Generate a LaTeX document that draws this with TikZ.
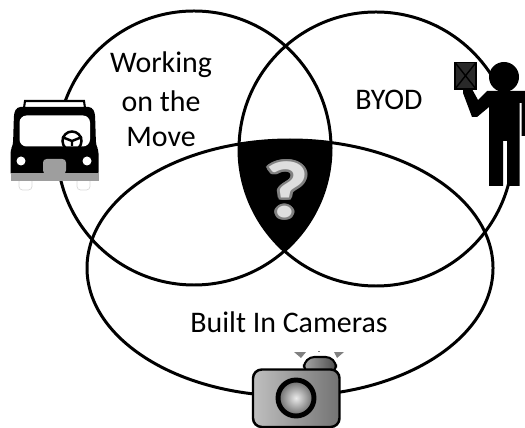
\documentclass[tikz,border=0pt]{standalone}
\usepackage{fontspec}
\setmainfont{Carlito}
\usepackage[copies]{contour}
\contourlength{0.6pt}
\definecolor{lampgrey}{gray}{0.62}
\definecolor{boxgrey}{gray}{0.16}
\tikzset{
	vennline/.style={line width=0.85pt, color=black},
	labeltext/.style={font=\fontsize{8.5pt}{10pt}\selectfont, inner sep=0pt},
	busgrey/.style={fill=lampgrey, draw=none},
	rayfill/.style={fill=black!50, draw=none},
}

\begin{document}
\begin{tikzpicture}[x=0.01cm, y=-0.01cm]
		%%%%% START %%%%%
		\useasboundingbox (0, 0) rectangle (525, 428);
		
		% black part shared by all three
		\begin{scope}
			\clip (194, 148) circle (137);
			\clip (376, 149) circle (137);
			\fill[black] (290, 268) ellipse [x radius=203, y radius=128];
		\end{scope}
		
		\draw[vennline] (194, 148) circle (137);
		\draw[vennline] (376, 149) circle (137);
		\draw[vennline] (290, 268) ellipse [x radius=203, y radius=128];
		
		\node[labeltext] (working) at (161, 65) {Working};
		\node[labeltext] (onthe) at (161, 101) {on the};
		\node[labeltext] (move) at (161, 137) {Move};
		\node[labeltext] (byod) at (389, 100) {BYOD};
		\node[labeltext] (cameras) at (289, 322) {Built In Cameras};
		\node[inner sep=0pt, text=black!13, xscale=1.2, font=\bfseries\fontsize{23pt}{25pt}\selectfont] (question) at (287, 191) {\contour{black!50}{?}};
		
		% bus
		\draw[line width=0.2pt, color=black!15, fill=white, rounded corners=1pt] (19, 178) rectangle (32, 190);
		\draw[line width=0.2pt, color=black!15, fill=white, rounded corners=1pt] (77, 178) rectangle (90, 190);
		\draw[line width=0.6pt, fill=white] (24, 108) -- (25, 101) -- (84, 101) -- (85, 108);
		\fill[black, rounded corners=1pt] (17, 107) -- (92, 107) -- (95, 113) -- (96, 145) -- (98.5, 150) -- (98.5, 176) -- (10.5, 176) -- (10.5, 150) -- (13, 145) -- (14, 113) -- cycle;
		\fill[white, rounded corners=2pt] (19.5, 115.5) rectangle (90, 146.5);
		\draw[line width=0.7pt] (72, 141) circle (9.5);
		\draw[line width=0.7pt] (72, 141) -- (72, 146) (62, 137) -- (72, 141) -- (82, 137);
		\fill[white] (21, 161) circle (4.5);
		\fill[white] (87, 161) circle (4.5);
		\fill[busgrey, rounded corners=1pt] (43, 174) -- (43, 159) -- (66, 159) -- (66, 174) -- cycle;
		\fill[busgrey] (10.5, 173) rectangle (98.5, 181);
		
		% person
		\fill[black] (504, 77) circle (15);
		\fill[black] (463, 89) -- (472, 89) -- (478, 100) -- (487, 91) -- (525, 91) -- (525, 136) -- (521.5, 136) -- (521.5, 103) -- (519.5, 103) -- (519.5, 186) -- (507, 186) -- (507, 141) -- (503, 141) -- (503, 186) -- (489, 186) -- (489, 107) -- (477, 117) -- (472, 117) -- (463, 93) -- cycle;
		\draw[line width=0.3pt, fill=boxgrey] (455, 62.5) rectangle (476, 89);
		\draw[line width=0.4pt, color=black] (455, 62.5) -- (476, 89) (455, 89) -- (476, 62.5);
		
		% camera
		\fill[rayfill] (294, 352) -- (306, 352) -- (301, 358) -- cycle;
		\fill[rayfill] (344, 352) -- (334, 352) -- (337, 358) -- cycle;
		\fill[rayfill] (318, 351) rectangle (320, 352);
		\draw[line width=0.6pt, left color=black!35, right color=black!70, rounded corners=3pt] (304, 375) -- (304, 357) -- (336, 357) -- (336, 375) -- cycle;
		\draw[line width=0.7pt, left color=black!25, right color=black!55, rounded corners=2.5pt] (253, 369.5) rectangle (339.5, 427);
		\draw[line width=1.4pt, inner color=black!8, outer color=black!60] (296, 398) circle (18);
		
		%%%%% END %%%%%
	\end{tikzpicture}
\end{document}
